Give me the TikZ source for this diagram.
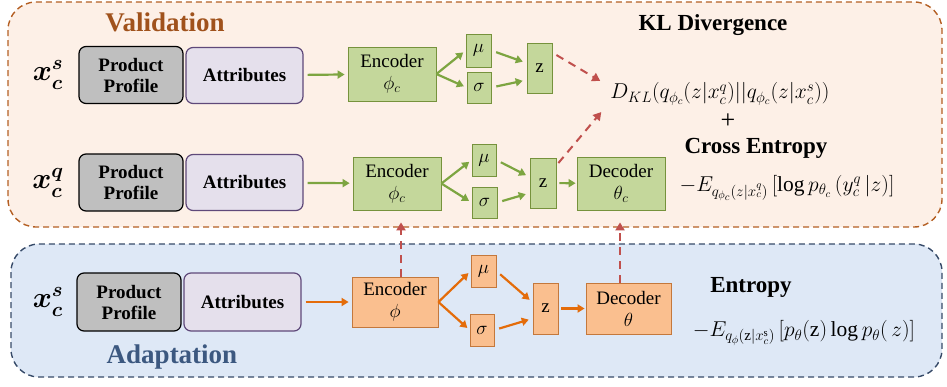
\RequirePackage{fix-cm}
\documentclass[tikz,border=0pt]{standalone}
\usepackage{amsmath}
\usepackage{fontspec}
\setmainfont{Liberation Serif}
\usetikzlibrary{arrows.meta,calc}

\definecolor{valfill}{RGB}{253,240,231}
\definecolor{valline}{RGB}{180,95,35}
\definecolor{valtext}{RGB}{160,82,28}
\definecolor{adafill}{RGB}{222,232,246}
\definecolor{adaline}{RGB}{55,75,105}
\definecolor{adatext}{RGB}{60,88,128}
\definecolor{ppgray}{RGB}{191,191,191}
\definecolor{attrfill}{RGB}{229,224,236}
\definecolor{attrline}{RGB}{95,73,122}
\definecolor{grnfill}{RGB}{196,215,155}
\definecolor{grnline}{RGB}{118,146,60}
\definecolor{grnarr}{RGB}{125,165,65}
\definecolor{orgfill}{RGB}{250,191,143}
\definecolor{orgline}{RGB}{196,120,60}
\definecolor{orgarr}{RGB}{228,108,10}
\definecolor{redarr}{RGB}{192,80,77}

\begin{document}
\begin{tikzpicture}[x=1pt,y=-1pt,
    box/.style={line width=1.2pt, rounded corners=7pt, align=center, inner sep=0pt,
      font=\bfseries\fontsize{19}{21}\selectfont},
    pbox/.style={box, draw=black, fill=ppgray, minimum width=104pt, minimum height=57pt},
    abox/.style={box, draw=attrline, fill=attrfill, minimum width=117pt, minimum height=56pt},
    gbox/.style={draw=grnline, fill=grnfill, line width=0.8pt, inner sep=0pt, align=center,
      font=\fontsize{19}{22}\selectfont},
    obox/.style={gbox, draw=orgline, fill=orgfill},
    garr/.style={draw=grnarr, line width=2.2pt, -{Triangle[length=7pt,width=8pt]}},
    oarr/.style={garr, draw=orgarr},
    rarr/.style={draw=redarr, line width=2pt, dash pattern=on 8pt off 6pt,
      -{Triangle[length=8pt,width=9pt]}},
    title/.style={font=\bfseries\fontsize{23}{26}\selectfont},
    formula/.style={font=\fontsize{21.5}{24}\selectfont, inner sep=0pt},
    inlabel/.style={font=\fontsize{29}{32}\selectfont}]
\useasboundingbox (0,0) rectangle (947,386);

% the two phases
\draw[valline, fill=valfill, line width=1.4pt, dash pattern=on 6pt off 4pt, rounded corners=28pt]
  (8,2) rectangle (942,227);
\draw[adaline, fill=adafill, line width=1.4pt, dash pattern=on 6pt off 4pt, rounded corners=28pt]
  (11,244) rectangle (942,377);

\node[font=\bfseries\fontsize{27}{30}\selectfont, text=valtext] (valtitle) at (165,22) {Validation};
\node[font=\bfseries\fontsize{27}{30}\selectfont, text=adatext] (adatitle) at (172,357) {Adaptation};

% support row
\node[inlabel] (xs1) at (48,75) {$\boldsymbol{x_c^s}$};
\node[pbox] (pp1) at (131,75) {Product\\Profile};
\node[abox] (attr1) at (244.5,75.5) {Attributes};
\node[gbox, minimum width=88pt, minimum height=54pt] (enc1) at (392,74) {Encoder\\$\phi_c$};
\node[gbox, minimum width=25pt, minimum height=33pt] (mu1) at (478.5,50.5) {$\mu$};
\node[gbox, minimum width=24pt, minimum height=31pt] (sig1) at (479,87.5) {$\sigma$};
\node[gbox, minimum width=25pt, minimum height=50pt] (z1) at (539.5,68) {z};

% query row
\node[inlabel] (xq) at (48,183) {$\boldsymbol{x_c^q}$};
\node[pbox] (pp2) at (131,182.5) {Product\\Profile};
\node[abox] (attr2) at (244.5,182.5) {Attributes};
\node[gbox, minimum width=88pt, minimum height=53pt] (enc2) at (397,183.5) {Encoder\\$\phi_c$};
\node[gbox, minimum width=24pt, minimum height=32pt] (mu2) at (484,160) {$\mu$};
\node[gbox, minimum width=25pt, minimum height=31pt] (sig2) at (484.5,202.5) {$\sigma$};
\node[gbox, minimum width=26pt, minimum height=50pt] (z2) at (543,183) {z};
\node[gbox, minimum width=88pt, minimum height=53pt] (dec2) at (621,183.5) {Decoder\\$\theta_c$};

% adaptation row
\node[inlabel] (xs3) at (48,302) {$\boldsymbol{x_c^s}$};
\node[pbox, minimum height=58pt] (pp3) at (129,302) {Product\\Profile};
\node[abox, minimum height=58pt] (attr3) at (242.5,302) {Attributes};
\node[obox, minimum width=86pt, minimum height=50pt] (enc3) at (395,302) {Encoder\\$\phi$};
\node[obox, minimum width=25pt, minimum height=32pt] (mu3) at (483.5,271) {$\mu$};
\node[obox, minimum width=24pt, minimum height=32pt] (sig3) at (482,330) {$\sigma$};
\node[obox, minimum width=25pt, minimum height=51pt] (z3) at (545.5,308.5) {z};
\node[obox, minimum width=85pt, minimum height=51pt] (dec3) at (628.5,308.5) {Decoder\\$\theta$};

% losses
\node[title] (kltitle) at (713,25) {KL Divergence};
\node[formula] (dkl) at (720,94) {$D_{KL}(q_{\phi_c}(z|x_c^q)||q_{\phi_c}(z|x_c^s))$};
\node[font=\fontsize{26}{28}\selectfont] (plus) at (728,121) {+};
\node[title] (cetitle) at (756,148) {Cross Entropy};
\node[formula] (ce) at (787,188) {$-E_{q_{\phi_c}(z|x_c^q)}\,[\log p_{\theta_c}\,(y_c^q\,|z)]$};
\node[title] (enttitle) at (751,287) {Entropy};
\node[formula] (ent) at (804,333) {$-E_{q_{\phi}(\mathrm{z}|x_c^{\mathrm{s}})}\,[p_\theta(\mathrm{z})\log p_\theta(\,z)]$};

% green flows
\draw[garr, shorten <=4pt, shorten >=3pt] (attr1) -- (enc1);
\draw[garr, shorten >=3pt] (enc1.east) -- (mu1.west);
\draw[garr, shorten >=3pt] (enc1.east) -- (sig1.west);
\draw[garr, shorten <=5pt, shorten >=4pt] (mu1.east) -- ($(z1.west)+(0,-5)$);
\draw[garr, shorten <=5pt, shorten >=4pt] (sig1.east) -- ($(z1.west)+(0,12)$);

\draw[garr, shorten <=4pt, shorten >=3pt] (attr2) -- (enc2);
\draw[garr, shorten >=3pt] (enc2.east) -- (mu2.west);
\draw[garr, shorten >=3pt] (enc2.east) -- (sig2.west);
\draw[garr, shorten <=5pt, shorten >=4pt] (mu2.east) -- ($(z2.west)+(0,-6)$);
\draw[garr, shorten <=5pt, shorten >=4pt] (sig2.east) -- ($(z2.west)+(0,10)$);
\draw[garr, shorten <=3pt, shorten >=1pt] (z2) -- (dec2);

% orange flows
\draw[oarr, shorten <=4pt, shorten >=3pt] (attr3) -- (enc3);
\draw[oarr, shorten >=3pt] (enc3.east) -- (mu3.west);
\draw[oarr, shorten >=3pt] (enc3.east) -- (sig3.west);
\draw[oarr, shorten <=5pt, shorten >=4pt] (mu3.east) -- ($(z3.west)+(0,-6)$);
\draw[oarr, shorten <=5pt, shorten >=4pt] (sig3.east) -- ($(z3.west)+(0,10)$);
\draw[oarr, shorten <=3pt, shorten >=1pt] (z3) -- (dec3);

% dashed links
\draw[rarr] ($(z1.east)+(4,-13)$) -- ($(dkl.west)+(-10,-13)$);
\draw[rarr] ($(z2.east)+(2,-20)$) -- ($(dkl.west)+(-9,18)$);
\draw[rarr] ([xshift=6pt]enc3.north) -- ([xshift=4pt,yshift=-12pt]enc2.south);
\draw[rarr] ([xshift=-8.5pt]dec3.north) -- ([xshift=-1pt,yshift=-12pt]dec2.south);
\end{tikzpicture}
\end{document}
